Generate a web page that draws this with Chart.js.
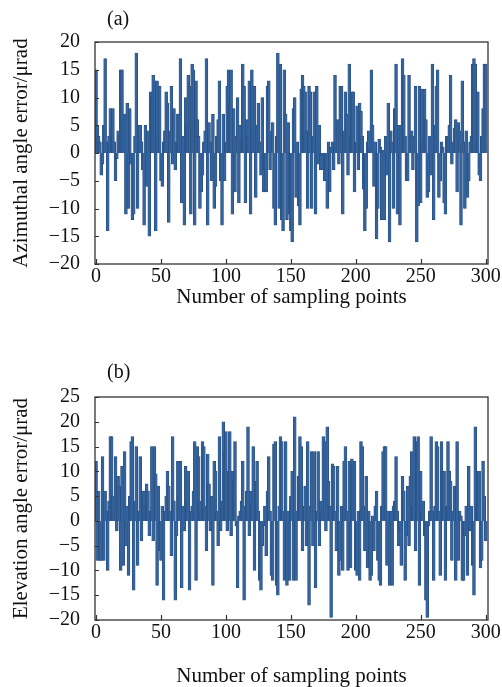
<!DOCTYPE html>
<html>
<head>
<meta charset="utf-8">
<script src="https://cdn.jsdelivr.net/npm/chart.js@4/dist/chart.umd.min.js"></script>
<style>
  html, body { margin: 0; padding: 0; background: #ffffff; width: 502px; height: 687px; overflow: hidden; }
  canvas { position: absolute; left: 0; }
  #ca { top: 0; }
  #cb { top: 343px; }
</style>
</head>
<body>
<canvas id="ca" width="502" height="343"></canvas>
<canvas id="cb" width="502" height="350"></canvas>
<script>
// ---- Data (µrad) ----
const azimuthError = [
  15, 5, 3, 2, -4, -2, 5, 17, 2, -14, 3, 8, 4, 8, 2, -5, -1, 4, 3, 15,
  15, 6, 7, -11, 9, -10, 8, -2, -12, -11, 3, 18, -10, 5, 5, 2, -3, -13, 5, -6,
  4, -15, 11, 10, 14, 13, -14, 13, 3, 12, -5, -6, 2, 4, 11, 9, -12.5, 4, 12, -2,
  8, -3, 2, 7, 7, 17, -9, 3, -13, 10, 5, 14, 12, -11, 16, 15, -13, 13, 6, 3,
  -10, -7, -4, 2, 4, 17, -13, 5.5, 2, -5, 7, -10, -6, 3, 6, 13, -5, -13, 7, -5,
  2, 12, 15, 9, 15, -11, 8, -7, 3, 10, -9, 5, 2, 16, 12, -9, 6, 3, 13, -11,
  15, 4, 12, -8, 5, 9, 2, -4, 10, -7, -3, -7, 12, 13, -3, 4, 5.5, -10, -13, 3,
  18, -10, 16, -12, -14, 15, 7, -12, 5.5, -11, -14, -16, 8, 10, -8, 2, -9.5, -13, 11.5, 14,
  12, 11, 4, -10, 12, 11, -10, 3, 11, -11, 12, -2, 5, -3, -0.5, -3, -5, -3, -10, 2,
  -7, 1, 2, -3, 14, 1, 6, -2, 12, 12, -11, 4, 11, 7, -4, 16, 3, 11, 11, -7,
  2, 8.5, -3, 9, 7.5, 3, -6.5, -14, -10, 2, 4, 0.5, 15, 5, -6, 2, -15.5, -10, 2.5, 1,
  -12, 0.5, -12, 3, -4, 9, -16, 4, 2, -10, 8, 16, -11, 5, -13, 5, 17, 14, 3, -5,
  -5, 14, 3, 4, -3, 3, 12, -16, -9.5, 12, -9, 11.5, 2, 11.5, 6, -8, -7, 3, -4, 16,
  -12, 5, 12, 15, -8, -5, 2, 1, -9, -11, 3, 3, 5, 14, -2, 2, 4.5, 6, -7, 5.5,
  4, -13, 13, 2, -10, 4, -8, -5, 2, 3, 16, 17, 16, 2, 11, -4, -5, 3, 8, 16,
  16
];
const elevationError = [
  12, -8, 6, -8, -8, 13, -8, 6, 2, -10, 4, 17, 17, 5, 2, 13, -2, 9, 7, -10,
  11, -9, 14, -5, 3, -11, 5, 16, 17, -14, 4, 15, -9, 2, 13, -4, 6, 6, 3, 7.5,
  6, -3, 2, 15, -4, 15, 9.5, -13, 7, -6, -8, 3, -16, 2, 5, 10, 7, 2, -7, 17,
  4, -16, -3, 12, 5, 12, -13.5, 3, -2, 11, 4, 10, -14, 2, 3, 6, 16, -12, 15, 13,
  4, 2, 16, 15, 3, -6, 13.5, 7.5, -2, 5, -13, 12, 10, 2, -5, 17, -2, 4, 20, 14,
  18, -2, 10, 18, -3, 10, 8, 16, -1, -13.5, 1, 2, 4, 12, -16, 3, 6, 19, -3, 6,
  3, 15, -10, 8, 12, 2, -12, -14, -5, -1, 3, -7, 6, 13, 2, -11, -12, 15.5, 16, -13,
  -15, 3, 17, 16, 2, -12, 16, -13, 2, -12, 5, 10, -12, 21, -12, 2, 9, 17, 15, -6,
  3, 7, -5, 16, -17, 3, 14, -5, 14, -13.5, 2, 14, -5, 4, 2, 17, 16, -2, 19, 8,
  3, -19.5, 11.5, 11, 2, -6, 11, -11, -8, 3, -10, 12, 15, 2, -10, 12, -9.5, 12.5, 11.5, 12,
  -10, -11, 2, -12, 16, 15, 3, -6, 9, -9.5, 2, -12, -11, 1, -6, 3, 6, -8, -12, -13,
  3, 14, 15, 15, -9, 2, -13, 2, -13, 3, 4, 13, 2, -5, -2, -9, 9, 6, -12, -3,
  7, -5, 9, 14, 3, 17, -6, 16, 17, -13, 10, 2, 4, -3, -16, -19.5, -1, 2, 17, 2,
  -12, 3, 16, 15, 2, -11, 16, 10, 10, -12, 3, 16, 10, 8, -8, 2, 7, -12, 16, -8,
  2, 1, -12, -12, -3, 3, -11, 11, -2, 3, -9, -15, 19, 3, 10, 10, -9.5, -8, 12, 5,
  -4
];
const sampleIndex = azimuthError.map((_, i) => i);   // categories: sampling point number
const xTickValues = [0, 50, 100, 150, 200, 250, 300];
const yTicksA = [-20, -15, -10, -5, 0, 5, 10, 15, 20];
const yTicksB = [-20, -15, -10, -5, 0, 5, 10, 15, 20, 25];

const SERIF = '"Liberation Serif", "Times New Roman", "DejaVu Serif", serif';
const BAR_FILL = '#3364a0';
const BAR_EDGE = '#2a4a74';

function framePlugin(label, yTicks) {
  return {
    id: 'frame' + label,
    afterDraw(chart) {
      const ctx = chart.ctx;
      const a = chart.chartArea;
      const xs = chart.scales.x, ys = chart.scales.y;
      ctx.save();
      ctx.strokeStyle = '#333333';
      ctx.lineWidth = 1.3;
      ctx.strokeRect(a.left, a.top, a.right - a.left, a.bottom - a.top);
      ctx.lineWidth = 1.2;
      ctx.beginPath();
      yTicks.forEach(v => {
        const p = Math.round(ys.getPixelForValue(v)) + 0.5;
        ctx.moveTo(a.left, p); ctx.lineTo(a.left + 4, p);
      });
      xTickValues.forEach(v => {
        const p = Math.round(xs.getPixelForValue(v)) + 0.5;
        ctx.moveTo(p, a.bottom); ctx.lineTo(p, a.bottom - 5);
      });
      ctx.stroke();
      ctx.fillStyle = '#111111';
      ctx.font = '20px ' + SERIF;
      ctx.textBaseline = 'middle';
      ctx.textAlign = 'left';
      ctx.fillText(label, 107, chart.canvas.id === 'ca' ? 20 : 30);
      ctx.restore();
    }
  };
}

function makeChart(id, values, yMin, yMax, yTicks, yTitle, geom) {
  const points = sampleIndex.map((x, i) => ({ x: x, y: values[i] }));
  return new Chart(document.getElementById(id), {
    type: 'bar',
    data: {
      datasets: [{
        data: points,
        backgroundColor: BAR_FILL,
        borderColor: BAR_EDGE,
        borderWidth: 0.6,
        barThickness: 2.9
      }]
    },
    options: {
      responsive: false,
      animation: false,
      devicePixelRatio: 1,
      layout: { padding: { left: 0, right: 14, top: geom.top, bottom: 0 } },
      plugins: { legend: { display: false }, tooltip: { enabled: false } },
      scales: {
        x: {
          type: 'linear',
          min: -0.8,
          max: 301.8,
          offset: false,
          grid: { display: false, drawTicks: false },
          border: { display: false },
          afterBuildTicks: s => { s.ticks = xTickValues.map(v => ({ value: v })); },
          afterFit: s => { s.height = geom.xh; s.paddingLeft = 0; s.paddingRight = 0; },
          ticks: {
            autoSkip: false,
            maxRotation: 0,
            padding: 1,
            color: '#111111',
            font: { family: SERIF, size: 20 },
            callback: v => String(v)
          },
          title: {
            display: true,
            text: 'Number of sampling points',
            color: '#111111',
            font: { family: SERIF, size: 21 },
            padding: { top: 0, bottom: geom.tpad }
          }
        },
        y: {
          min: yMin,
          max: yMax,
          grid: { display: false, drawTicks: false },
          border: { display: false },
          afterBuildTicks: s => { s.ticks = yTicks.map(v => ({ value: v })); },
          afterFit: s => { s.width = 95; s.paddingTop = 0; s.paddingBottom = 0; },
          ticks: {
            autoSkip: false,
            padding: 15,
            color: '#111111',
            font: { family: SERIF, size: 20 },
            callback: v => (v < 0 ? '\u2212' + Math.abs(v) : String(v))
          },
          title: {
            display: true,
            text: yTitle,
            color: '#111111',
            font: { family: SERIF, size: 21 },
            padding: { top: 9, bottom: 0 }
          }
        }
      }
    },
    plugins: [framePlugin(geom.label, yTicks)]
  });
}

makeChart('ca', azimuthError, -20, 20, yTicksA, 'Azimuthal angle error/\u03bcrad',
  { top: 42, xh: 79, tpad: 33, label: '(a)' });
makeChart('cb', elevationError, -20, 25, yTicksB, 'Elevation angle error/\u03bcrad',
  { top: 54, xh: 73, tpad: 4, label: '(b)' });
</script>
</body>
</html>
